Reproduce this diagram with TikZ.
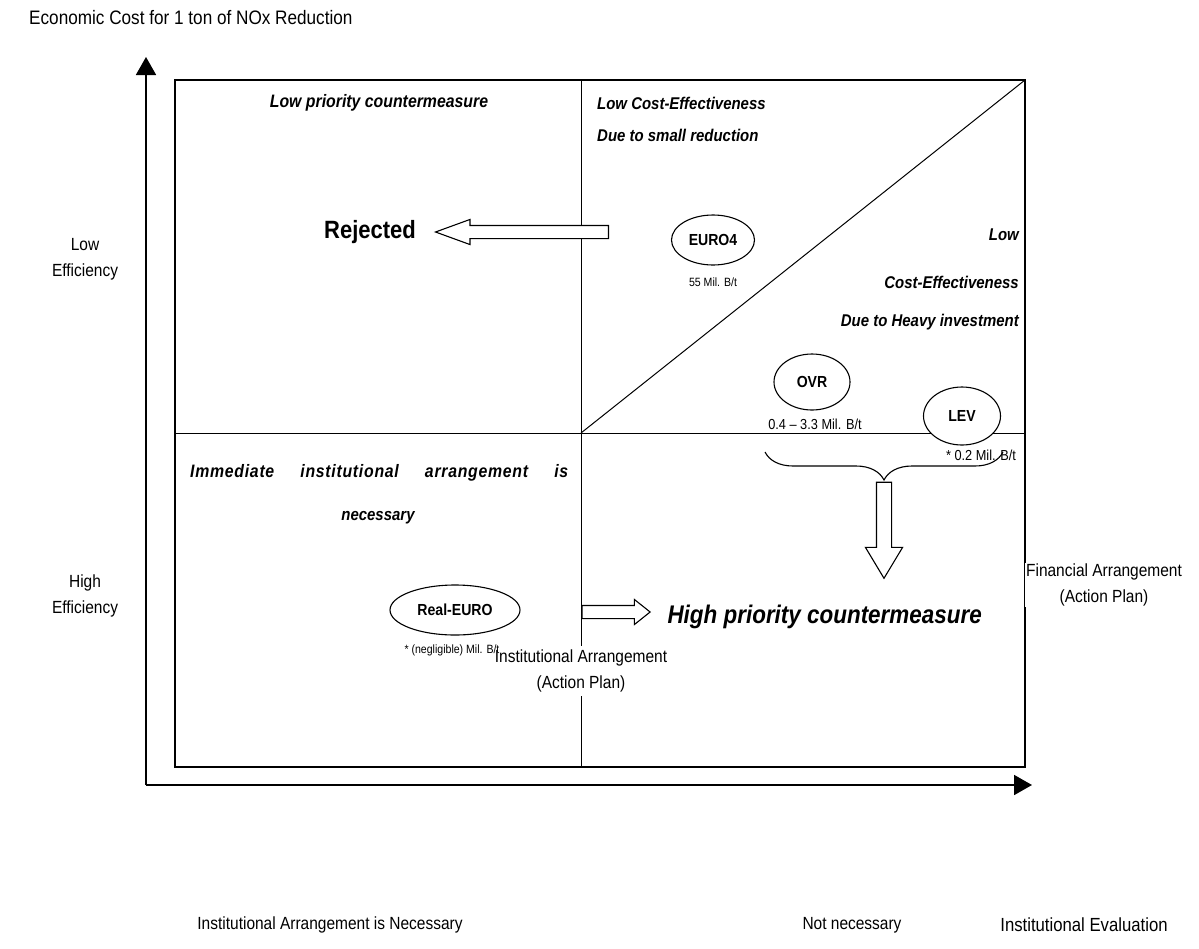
\documentclass[tikz,border=0pt]{standalone}
\usepackage{fontspec}
\setmainfont{Liberation Sans}[FakeStretch=0.88]
\usetikzlibrary{shapes.geometric,shapes.arrows,decorations.pathreplacing,arrows.meta}

\begin{document}
\begin{tikzpicture}[x=1pt,y=-1pt,
  axisline/.style={line width=1.8pt,-{Triangle[length=18pt,width=20pt]}},
  frame/.style={line width=1.3pt},
  divider/.style={line width=1pt},
  axislabel/.style={font=\fontsize{17.6}{26}\selectfont,align=center,inner sep=1pt},
  quad/.style={font=\fontsize{17}{20}\selectfont\bfseries\itshape,inner sep=1pt},
  oval/.style={ellipse,draw,line width=1.1pt,fill=white,inner sep=0pt,
    font=\fontsize{16}{18}\selectfont\bfseries},
  cost/.style={font=\fontsize{12}{14}\selectfont,inner sep=1pt},
  blockarrow/.style={single arrow,draw,line width=1.1pt,fill=white}
]
\useasboundingbox (0,0) rectangle (1199,948);

% axes
\coordinate (O) at (146,785);
\coordinate (Ytip) at (146,57);
\coordinate (Xtip) at (1032,785);
\draw[axisline] (O) -- (Ytip);
\draw[axisline] (O) -- (Xtip);

% frame and quadrant dividers
\coordinate (TL) at (175,80);
\coordinate (TR) at (1025,80);
\coordinate (BL) at (175,767);
\coordinate (BR) at (1025,767);
\coordinate (C)  at (581,433);
\coordinate (Ctop) at (581,80);
\coordinate (Cbot) at (581,767);
\coordinate (Lmid) at (175,433);
\coordinate (Rmid) at (1025,433);
\draw[frame] (TL) rectangle (BR);
\draw[divider] (Lmid) -- (Rmid);
\draw[divider] (Ctop) -- (Cbot);
\draw[divider] (C) -- (TR);

% axis titles
\node[axislabel,font=\fontsize{19.5}{24}\selectfont,anchor=west] (ytitle) at (28,18) {Economic Cost for 1 ton of NOx Reduction};
\node[axislabel] (loweff) at (85,259) {Low\\Efficiency};
\node[axislabel] (higheff) at (85,596) {High\\Efficiency};
\node[axislabel] (xnec) at (330,925) {Institutional Arrangement is Necessary};
\node[axislabel] (xnot) at (852,925) {Not necessary};
\node[axislabel,font=\fontsize{19}{24}\selectfont] (xeval) at (1084,925) {Institutional Evaluation};

% upper-left quadrant
\node[quad,font=\fontsize{18}{20}\selectfont\bfseries\itshape] (lowprio) at (379,103) {Low priority countermeasure};
\node[font=\fontsize{25}{28}\selectfont\bfseries] (rejected) at (370,232) {Rejected};

% upper-right quadrant
\node[quad,anchor=west] (lce1) at (596,103) {Low Cost-Effectiveness};
\node[quad,anchor=west] (lce2) at (596,135) {Due to small reduction};
\node[quad,anchor=east] (hi1) at (1020,235) {Low};
\node[quad,anchor=east] (hi2) at (1020,282) {Cost-Effectiveness};
\node[quad,anchor=east] (hi3) at (1020,322) {Due to Heavy investment};

\node[oval,minimum width=83pt,minimum height=50pt] (euro4) at (713,240) {EURO4};
\node[cost] (euro4c) at (713,282) {55 Mil. B/t};
\node[oval,minimum width=76pt,minimum height=56pt] (ovr) at (812,382) {OVR};
\node[cost,font=\fontsize{14.5}{16}\selectfont] (ovrc) at (815,424) {0.4 -- 3.3 Mil. B/t};
\node[oval,minimum width=77pt,minimum height=58pt] (lev) at (962,416) {LEV};
\node[cost,font=\fontsize{14.5}{16}\selectfont] (levc) at (981,455) {* 0.2 Mil. B/t};

\node[blockarrow,shape border rotate=180,minimum height=173pt,inner sep=6pt,
  single arrow head extend=6pt,single arrow tip angle=40] (rejarrow) at (531,232) {};

% financial arrangement
\coordinate (braceL) at (765,452);
\coordinate (braceR) at (1003,452);
\draw[line width=1.1pt,decorate,decoration={brace,amplitude=28pt,mirror}] (braceL) -- (braceR);
\node[blockarrow,shape border rotate=270,minimum height=96pt,inner sep=7pt,
  single arrow head extend=11pt,single arrow tip angle=62] (finarrow) at (884,524) {};
\node[axislabel,fill=white] (fin) at (1104,585) {Financial Arrangement\\(Action Plan)};

% lower-right quadrant (label box breaks the divider)
\node[axislabel,fill=white,inner ysep=4pt] (inst) at (581,671) {Institutional Arrangement\\(Action Plan)};
\node[font=\fontsize{25.5}{28}\selectfont\bfseries\itshape,anchor=west] (highprio) at (664,617) {High priority countermeasure};

% lower-left quadrant
\node[quad,font=\fontsize{18}{20}\selectfont\bfseries\itshape,anchor=west] (imm1) at (189,473)
  {\addfontfeature{LetterSpace=4}\makebox[378pt][s]{Immediate institutional arrangement is}};
\node[quad] (imm2) at (378,518) {necessary};
\node[oval,minimum width=130pt,minimum height=50pt] (realeuro) at (455,610) {Real-EURO};
\node[cost,font=\fontsize{12}{14}\selectfont] (realc) at (452,650) {* (negligible) Mil. B/t};
\node[blockarrow,minimum height=68pt,inner sep=6pt,
  single arrow head extend=6pt,single arrow tip angle=77] (instarrow) at (612,612) {};
\end{tikzpicture}
\end{document}
